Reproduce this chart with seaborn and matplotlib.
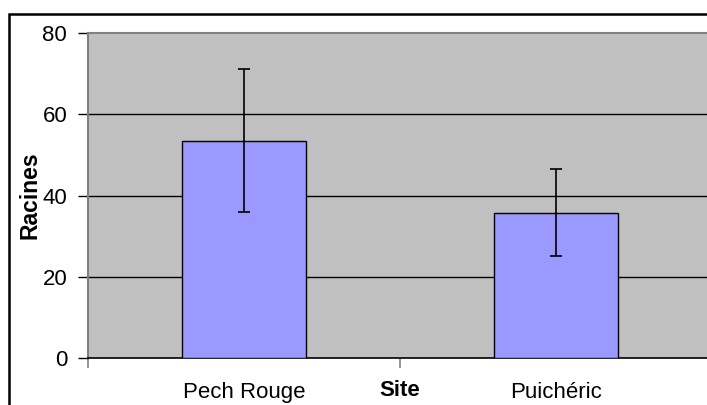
import numpy as np
import pandas as pd
import matplotlib
matplotlib.use('Agg')
import matplotlib.pyplot as plt
import seaborn as sns
from matplotlib.patches import Rectangle

# data
sites = ['Pech Rouge', 'Puichéric']
racines = [53.5, 35.8]
erreurs = [17.6, 10.8]
yticks = [0, 20, 40, 60, 80]

df = pd.DataFrame({'Site': sites, 'Racines': racines})

sns.set_style('white')
plt.rcParams['font.family'] = ['Liberation Sans', 'DejaVu Sans']
plt.rcParams['text.color'] = 'black'
plt.rcParams['xtick.labelcolor'] = 'black'
plt.rcParams['ytick.labelcolor'] = 'black'

W, H = 707, 405
fig = plt.figure(figsize=(W / 100, H / 100), dpi=100)
fig.patch.set_facecolor('white')

# plot area (goes past the right edge like the original crop)
left, right, top, bottom = 88, 712, 33, 358
ax = fig.add_axes([left / W, 1 - bottom / H, (right - left) / W, (bottom - top) / H])
ax.set_facecolor('#C0C0C0')

# outer chart border
fig.add_artist(Rectangle((9 / W, -0.2), 1.2, 1.2 - 14 / H, transform=fig.transFigure,
                         fill=False, edgecolor='black', linewidth=1.8, zorder=10))

sns.barplot(data=df, x='Site', y='Racines', color='#9999FF', width=0.4,
            edgecolor='black', linewidth=1, saturation=1, errorbar=None, ax=ax, zorder=3)
ax.errorbar(np.arange(len(sites)), racines, yerr=erreurs, fmt='none', ecolor='black',
            elinewidth=1.2, capsize=4.5, capthick=1.2, zorder=4)

ax.set_xlim(-0.5, 1.5)
ax.set_ylim(0, 80)
ax.set_yticks(yticks)
for v in yticks[1:-1]:
    ax.axhline(v, color='black', linewidth=1, zorder=1)

for s in ['top', 'left']:
    ax.spines[s].set_color('#808080')
    ax.spines[s].set_linewidth(1.5)
ax.spines['right'].set_visible(False)
ax.spines['bottom'].set_color('black')
ax.spines['bottom'].set_linewidth(1.2)
ax.spines['top'].set_zorder(5)

ax.tick_params(axis='y', direction='out', length=7, width=1, color='black',
               pad=8, labelsize=16, left=True)
ax.tick_params(axis='x', which='major', length=0, pad=17, labelsize=16)
ax.set_xticks([-0.5, 0.5], minor=True)
ax.tick_params(axis='x', which='minor', direction='out', length=7, width=1.2,
               color='#808080', bottom=True)
ax.set_xlabel('')
ax.set_ylabel('')

ax.text(0.5, -0.1, 'Site', transform=ax.get_xaxis_transform(), ha='center',
        va='center', fontsize=16, fontweight='bold')
ax.text((30 - left) / (right - left), (bottom - 195) / (bottom - top), 'Racines',
        transform=ax.transAxes, rotation=90, ha='center', va='center',
        fontsize=16.5, fontweight='bold')

fig.savefig('out.png', dpi=100)
